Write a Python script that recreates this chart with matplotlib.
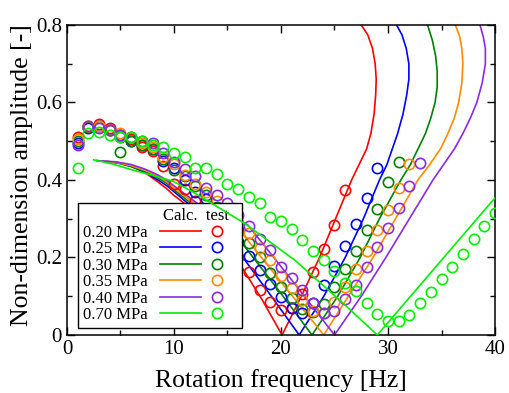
import numpy as np
import matplotlib
matplotlib.use('Agg')
import matplotlib.pyplot as plt
from matplotlib.lines import Line2D
from matplotlib.legend_handler import HandlerTuple

plt.rcParams['font.family'] = ['Liberation Serif', 'DejaVu Serif']

labels = ['0.20 MPa', '0.25 MPa', '0.30 MPa', '0.35 MPa', '0.40 MPa', '0.70 MPa']
colors = ['#ff0000', '#0000ff', '#008000', '#ff8c00', '#8a2be2', '#00ee00']

# test data (open circles), 1 Hz steps
test_020 = [0.51, 0.54, 0.545, 0.535, 0.51, 0.505, 0.485, 0.475, 0.435, 0.39, 0.376, 0.345, 0.31,
            0.27, 0.235, 0.2, 0.162, 0.116, 0.086, 0.064, 0.07, 0.105, 0.162, 0.222, 0.285, 0.374]
test_025 = [0.495, 0.535, 0.54, 0.53, 0.515, 0.50, 0.49, 0.48, 0.45, 0.43, 0.40, 0.37, 0.35, 0.31,
            0.275, 0.24, 0.205, 0.168, 0.131, 0.098, 0.07, 0.057, 0.083, 0.129, 0.178, 0.23, 0.286,
            0.354, 0.43]
test_030 = [0.50, 0.538, 0.54, 0.53, 0.472, 0.50, 0.49, 0.48, 0.455, 0.425, 0.41, 0.385, 0.36, 0.33,
            0.30, 0.27, 0.237, 0.2, 0.16, 0.124, 0.095, 0.068, 0.06, 0.08, 0.123, 0.17, 0.218, 0.271,
            0.325, 0.394, 0.446]
test_035 = [0.505, 0.54, 0.54, 0.53, 0.52, 0.51, 0.495, 0.485, 0.46, 0.44, 0.413, 0.39, 0.37, 0.345,
            0.32, 0.29, 0.263, 0.224, 0.194, 0.152, 0.121, 0.09, 0.062, 0.058, 0.085, 0.123, 0.17,
            0.217, 0.271, 0.322, 0.38, 0.441]
test_040 = [0.49, 0.54, 0.535, 0.53, 0.515, 0.51, 0.50, 0.495, 0.47, 0.446, 0.428, 0.41, 0.38, 0.362,
            0.34, 0.31, 0.28, 0.248, 0.219, 0.175, 0.147, 0.116, 0.083, 0.057, 0.062, 0.092, 0.129,
            0.176, 0.227, 0.276, 0.328, 0.384, 0.443]
test_070 = [0.43, 0.52, 0.524, 0.516, 0.51, 0.51, 0.50, 0.49, 0.485, 0.47, 0.46, 0.43, 0.43, 0.415,
            0.39, 0.377, 0.356, 0.34, 0.305, 0.294, 0.274, 0.245, 0.217, 0.194, 0.165, 0.134, 0.114,
            0.083, 0.054, 0.036, 0.036, 0.051, 0.082, 0.111, 0.145, 0.176, 0.208, 0.247, 0.282, 0.314]

# calculated curves (frequency, amplitude)
calc_020_f = [4.5, 5.5, 6.5, 7.5, 8.5, 9.3, 10.0, 11.2, 14.0, 16.5, 18.3, 20.1, 21.9, 23.6, 25.1,
              26.6, 27.3, 28.0, 28.4, 28.7, 28.85, 28.9, 28.8, 28.55, 28.1, 27.5]
calc_020_a = [0.447, 0.44, 0.43, 0.415, 0.395, 0.378, 0.36, 0.335, 0.25, 0.168, 0.088, 0.0, 0.1, 0.2,
              0.3, 0.4, 0.44, 0.48, 0.52, 0.57, 0.62, 0.66, 0.70, 0.74, 0.775, 0.8]
calc_025_f = [3.7, 5.0, 6.0, 7.3, 8.5, 9.3, 10.0, 11.5, 14.0, 16.5, 19.1, 21.7, 24.0, 26.0, 27.7,
              29.2, 29.9, 30.4, 30.9, 31.4, 31.75, 31.95, 31.95, 31.7, 31.3, 30.8]
calc_025_a = [0.448, 0.443, 0.435, 0.42, 0.40, 0.386, 0.37, 0.335, 0.27, 0.198, 0.1, 0.0, 0.1, 0.2,
              0.3, 0.4, 0.44, 0.48, 0.52, 0.57, 0.62, 0.66, 0.70, 0.74, 0.775, 0.8]
calc_030_f = [2.8, 4.5, 6.0, 7.3, 8.5, 9.3, 10.0, 11.8, 14.0, 16.5, 19.7, 22.9, 25.3, 27.4, 29.2,
              31.2, 32.1, 32.8, 33.5, 34.0, 34.4, 34.6, 34.6, 34.45, 34.15, 33.7]
calc_030_a = [0.45, 0.445, 0.435, 0.422, 0.405, 0.392, 0.375, 0.335, 0.29, 0.232, 0.118, 0.0, 0.1,
              0.2, 0.3, 0.4, 0.44, 0.48, 0.52, 0.56, 0.60, 0.64, 0.68, 0.72, 0.76, 0.8]
calc_035_f = [2.8, 4.5, 6.0, 7.3, 8.5, 9.3, 10.0, 12.1, 14.0, 16.5, 20.2, 24.0, 26.3, 28.6, 30.7,
              32.8, 33.9, 34.9, 35.6, 36.2, 36.6, 36.9, 37.0, 36.9, 36.7, 36.3]
calc_035_a = [0.45, 0.446, 0.437, 0.425, 0.41, 0.396, 0.38, 0.335, 0.305, 0.258, 0.13, 0.0, 0.1,
              0.2, 0.3, 0.4, 0.44, 0.48, 0.52, 0.56, 0.60, 0.65, 0.70, 0.74, 0.77, 0.8]
calc_040_f = [2.8, 4.5, 6.0, 7.3, 8.5, 9.3, 10.0, 12.4, 14.5, 16.9, 21.0, 25.0, 27.5, 29.8, 32.0,
              34.2, 35.2, 36.2, 37.0, 37.7, 38.3, 38.8, 39.1, 39.1, 38.9, 38.6]
calc_040_a = [0.45, 0.447, 0.44, 0.428, 0.413, 0.4, 0.385, 0.335, 0.315, 0.284, 0.142, 0.0, 0.1,
              0.2, 0.3, 0.4, 0.44, 0.48, 0.52, 0.56, 0.60, 0.65, 0.70, 0.74, 0.77, 0.8]
calc_070_f = [2.5, 4.3, 6.1, 8.0, 9.9, 11.7, 13.5, 16.5, 21.3, 26.0, 29.0, 40.0]
calc_070_a = [0.452, 0.441, 0.426, 0.412, 0.397, 0.37, 0.34, 0.29, 0.193, 0.077, 0.0, 0.354]

tests = [test_020, test_025, test_030, test_035, test_040, test_070]
calc_f = [calc_020_f, calc_025_f, calc_030_f, calc_035_f, calc_040_f, calc_070_f]
calc_a = [calc_020_a, calc_025_a, calc_030_a, calc_035_a, calc_040_a, calc_070_a]

fig = plt.figure(figsize=(5.09, 3.93), dpi=100)
ax = fig.add_axes([0.1316, 0.1476, 0.8409, 0.7888])

handles = []
for i in range(len(labels)):
    c = colors[i]
    z = 6 if i == 5 else 2
    ax.plot(calc_f[i], calc_a[i], color=c, lw=1.2, zorder=z)
    f = np.arange(1, len(tests[i]) + 1)
    ax.plot(f, tests[i], ls='none', marker='o', ms=7.4, mfc='none', mec=c, mew=1.2, zorder=3)
    handles.append((Line2D([], [], color=c, lw=1.2),
                    Line2D([], [], ls='none', marker='o', ms=7.4, mfc='none', mec=c, mew=1.2)))

ax.set_xlim(0, 40)
ax.set_ylim(0, 0.8)
ax.set_xticks([0, 10, 20, 30, 40])
ax.set_xticks([5, 15, 25, 35], minor=True)
ax.set_yticks([0, 0.2, 0.4, 0.6, 0.8])
ax.set_yticklabels(['0', '0.2', '0.4', '0.6', '0.8'])
ax.set_yticks([0.1, 0.3, 0.5, 0.7], minor=True)
ax.tick_params(which='both', direction='in', top=True, right=True, width=1.0, labelsize=15)
ax.tick_params(which='major', length=6)
ax.tick_params(which='minor', length=3.5)
for s in ax.spines.values():
    s.set_linewidth(1.1)
ax.set_xlabel('Rotation frequency [Hz]', fontsize=18.5, labelpad=7)
ax.set_ylabel('Non-dimension amplitude [-]', fontsize=18.5)
ax.yaxis.set_label_coords(-0.079, 0.515)

leg = ax.legend(handles, labels, handler_map={tuple: HandlerTuple(ndivide=None, pad=-0.3)},
                loc='lower left', bbox_to_anchor=(0.026, 0.022), borderaxespad=0.0,
                fontsize=12, markerfirst=False,
                handlelength=4.65, handletextpad=0.72, labelspacing=0.03, borderpad=0.3,
                title='Calc.  test  ', title_fontsize=12, alignment='right',
                fancybox=False, edgecolor='black', framealpha=1.0)
leg.get_frame().set_linewidth(1.0)
leg.set_zorder(5)

plt.savefig('out.png', dpi=100)
